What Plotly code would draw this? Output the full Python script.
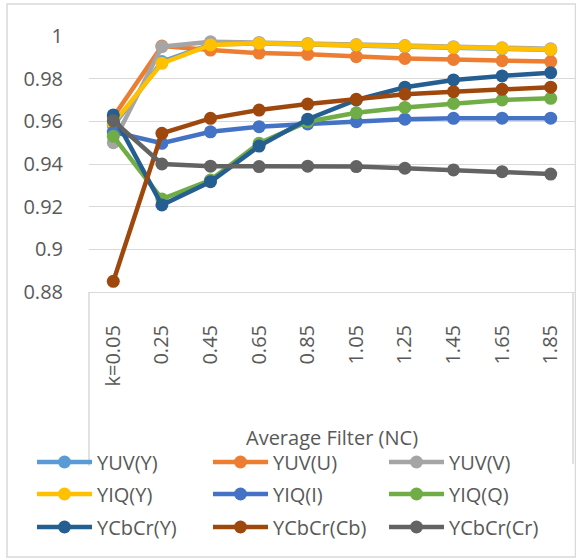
import plotly.graph_objects as go

# Category labels along the horizontal axis
categories = ["k=0.05", "0.25", "0.45", "0.65", "0.85", "1.05", "1.25", "1.45", "1.65", "1.85"]

# NC values per colour-space channel
yuv_y = [0.958, 0.988, 0.9960, 0.9965, 0.9960, 0.9955, 0.9950, 0.9945, 0.9940, 0.9935]
yuv_u = [0.962, 0.9953, 0.9934, 0.9920, 0.9914, 0.9903, 0.9895, 0.9890, 0.9884, 0.9880]
yuv_v = [0.950, 0.9950, 0.9973, 0.9970, 0.9965, 0.9960, 0.9955, 0.9950, 0.9945, 0.9940]
yiq_y = [0.959, 0.9872, 0.9958, 0.9966, 0.9961, 0.9958, 0.9953, 0.9947, 0.9942, 0.9937]
yiq_i = [0.955, 0.9497, 0.9551, 0.9575, 0.9588, 0.9598, 0.9610, 0.9614, 0.9615, 0.9615]
yiq_q = [0.953, 0.9236, 0.9325, 0.9497, 0.9598, 0.9640, 0.9665, 0.9684, 0.9700, 0.9708]
ycbcr_y = [0.963, 0.9208, 0.9317, 0.9484, 0.9610, 0.9700, 0.9760, 0.9794, 0.9813, 0.9828]
ycbcr_cb = [0.885, 0.9544, 0.9614, 0.9653, 0.9681, 0.9703, 0.9727, 0.9739, 0.9750, 0.9760]
ycbcr_cr = [0.9603, 0.9400, 0.9390, 0.9388, 0.9390, 0.9388, 0.9380, 0.9372, 0.9364, 0.9353]

series_names = ["YUV(Y)", "YUV(U)", "YUV(V)", "YIQ(Y)", "YIQ(I)", "YIQ(Q)",
                "YCbCr(Y)", "YCbCr(Cb)", "YCbCr(Cr)"]
series_values = [yuv_y, yuv_u, yuv_v, yiq_y, yiq_i, yiq_q, ycbcr_y, ycbcr_cb, ycbcr_cr]
series_colors = ["#5B9BD5", "#ED7D31", "#A5A5A5", "#FFC000", "#4472C4", "#70AD47",
                 "#255E91", "#9E480E", "#636363"]

y_tickvals = [0.88, 0.90, 0.92, 0.94, 0.96, 0.98, 1.00]
y_ticktext = ["0.88", "0.9", "0.92", "0.94", "0.96", "0.98", "1"]

FONT = "Open Sans, sans-serif"
TEXT = "#595959"
GRID = "#D9D9D9"
W, H = 576, 560

# one legend per row of three entries
legend_ids = ["legend", "legend2", "legend3"]

fig = go.Figure()
for i, (name, vals, col) in enumerate(zip(series_names, series_values, series_colors)):
    fig.add_trace(go.Scatter(
        x=categories, y=vals, name=name, mode="lines+markers",
        line=dict(color=col, width=4.5),
        marker=dict(color=col, size=13),
        cliponaxis=False,
        legend=legend_ids[i // 3],
    ))

# plot area in pixels
px0, px1 = 89, 575
py_top, py_bot = 36, 292

def fx(p):
    return p / W

def fy(p):
    return 1 - p / H

def row_legend(center_y):
    return dict(
        orientation="h", x=fx(32), y=fy(center_y), xanchor="left", yanchor="middle",
        entrywidth=106, entrywidthmode="pixels",
        font=dict(family=FONT, size=20, color=TEXT),
        bgcolor="rgba(255,255,255,0)", itemwidth=55,
    )

fig.update_layout(
    width=W, height=H,
    margin=dict(l=0, r=0, t=0, b=0, autoexpand=False),
    paper_bgcolor="white", plot_bgcolor="white",
    font=dict(family=FONT, size=20, color=TEXT),
    xaxis=dict(
        domain=[fx(px0), fx(px1)],
        type="category", range=[-0.5, 9.5],
        tickangle=-90, showgrid=False, ticks="",
        showline=True, linecolor=GRID, linewidth=1,
        ticklabelstandoff=24,
        tickfont=dict(family=FONT, size=20, color=TEXT),
    ),
    yaxis=dict(
        domain=[fy(py_bot), fy(py_top)],
        range=[0.88, 1.0], tickvals=y_tickvals, ticktext=y_ticktext,
        showgrid=True, gridcolor=GRID, gridwidth=1,
        zeroline=False, showline=False, ticks="",
        ticklabelstandoff=25,
        tickfont=dict(family=FONT, size=20, color=TEXT),
    ),
    legend=row_legend(462),
    legend2=row_legend(494),
    legend3=row_legend(527),
    showlegend=True,
)

# axis title
fig.add_annotation(
    text="Average Filter (NC)", xref="paper", yref="paper",
    x=fx((px0 + px1) / 2), y=fy(437), xanchor="center", yanchor="middle",
    showarrow=False, font=dict(family=FONT, size=20, color=TEXT),
)

# frame around the category label area
fig.add_shape(type="line", xref="paper", yref="paper",
              x0=fx(89), x1=fx(89), y0=fy(292), y1=fy(466),
              line=dict(color=GRID, width=1.5), layer="below")
fig.add_shape(type="line", xref="paper", yref="paper",
              x0=fx(573), x1=fx(573), y0=fy(292), y1=fy(464),
              line=dict(color=GRID, width=1.5), layer="below")

# outer chart border
fig.add_shape(type="rect", xref="paper", yref="paper",
              x0=fx(7), x1=fx(575.5), y0=fy(557), y1=fy(4),
              line=dict(color=GRID, width=1.5), layer="below")

fig.write_html("out.html")
